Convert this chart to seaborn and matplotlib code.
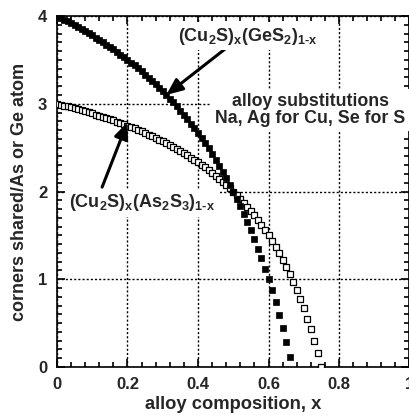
import matplotlib
matplotlib.use("Agg")
import matplotlib.pyplot as plt
import matplotlib.ticker as mticker
import seaborn as sns
import pandas as pd

# alloy composition grid (x in (Cu2S)x(B)1-x)
composition = [
    0.00, 0.01, 0.02, 0.03, 0.04, 0.05, 0.06, 0.07, 0.08, 0.09,
    0.10, 0.11, 0.12, 0.13, 0.14, 0.15, 0.16, 0.17, 0.18, 0.19,
    0.20, 0.21, 0.22, 0.23, 0.24, 0.25, 0.26, 0.27, 0.28, 0.29,
    0.30, 0.31, 0.32, 0.33, 0.34, 0.35, 0.36, 0.37, 0.38, 0.39,
    0.40, 0.41, 0.42, 0.43, 0.44, 0.45, 0.46, 0.47, 0.48, 0.49,
    0.50, 0.51, 0.52, 0.53, 0.54, 0.55, 0.56, 0.57, 0.58, 0.59,
    0.60, 0.61, 0.62, 0.63, 0.64, 0.65, 0.66, 0.67, 0.68, 0.69,
    0.70, 0.71, 0.72, 0.73, 0.74, 0.75,
]

# corners shared per Ge atom, (Cu2S)x(GeS2)1-x
corners_ges2 = [
    4.000, 3.980, 3.959, 3.938, 3.917, 3.895, 3.872, 3.849, 3.826, 3.802,
    3.778, 3.753, 3.727, 3.701, 3.674, 3.647, 3.619, 3.590, 3.561, 3.531,
    3.500, 3.468, 3.436, 3.403, 3.368, 3.333, 3.297, 3.260, 3.222, 3.183,
    3.143, 3.101, 3.059, 3.015, 2.970, 2.923, 2.875, 2.825, 2.774, 2.721,
    2.667, 2.610, 2.552, 2.491, 2.429, 2.364, 2.296, 2.226, 2.154, 2.078,
    2.000, 1.918, 1.833, 1.745, 1.652, 1.556, 1.455, 1.349, 1.238, 1.122,
    1.000, 0.872, 0.737, 0.595, 0.444, 0.286, 0.118,
]

# corners shared per As atom, (Cu2S)x(As2S3)1-x
corners_as2s3 = [
    3.000, 2.990, 2.980, 2.969, 2.958, 2.947, 2.936, 2.925, 2.913, 2.901,
    2.889, 2.876, 2.864, 2.851, 2.837, 2.824, 2.810, 2.795, 2.780, 2.765,
    2.750, 2.734, 2.718, 2.701, 2.684, 2.667, 2.649, 2.630, 2.611, 2.592,
    2.571, 2.551, 2.529, 2.507, 2.485, 2.462, 2.438, 2.413, 2.387, 2.361,
    2.333, 2.305, 2.276, 2.246, 2.214, 2.182, 2.148, 2.113, 2.077, 2.039,
    2.000, 1.959, 1.917, 1.872, 1.826, 1.778, 1.727, 1.674, 1.619, 1.561,
    1.500, 1.436, 1.368, 1.297, 1.222, 1.143, 1.059, 0.970, 0.875, 0.774,
    0.667, 0.552, 0.429, 0.296, 0.154, 0.000,
]

x_ticks = [0, 0.2, 0.4, 0.6, 0.8, 1]
x_tick_labels = ["0", "0.2", "0.4", "0.6", "0.8", "1"]
y_ticks = [0, 1, 2, 3, 4]
y_tick_labels = ["0", "1", "2", "3", "4"]

sns.set_style("ticks")
plt.rcParams["font.family"] = ["Liberation Sans", "DejaVu Sans"]
plt.rcParams["font.weight"] = "bold"
plt.rcParams["mathtext.fontset"] = "custom"
plt.rcParams["mathtext.rm"] = "Liberation Sans:bold"
plt.rcParams["mathtext.it"] = "Liberation Sans:bold"
plt.rcParams["mathtext.bf"] = "Liberation Sans:bold"

df_ges2 = pd.DataFrame({"x": composition[:len(corners_ges2)], "n": corners_ges2})
df_as = pd.DataFrame({"x": composition[:len(corners_as2s3)], "n": corners_as2s3})

fig = plt.figure(figsize=(4.10, 4.17), dpi=100)
ax = fig.add_axes([57 / 410, 1 - 367 / 417, 352.5 / 410, 351 / 417])

sns.scatterplot(data=df_as, x="x", y="n", marker="s", s=18, facecolor="white",
                edgecolor="black", linewidth=0.9, ax=ax, zorder=3)
sns.scatterplot(data=df_ges2, x="x", y="n", marker="s", s=18, color="black",
                edgecolor="black", linewidth=0.5, ax=ax, zorder=4)

ax.set_xlim(0, 1)
ax.set_ylim(0, 4)
ax.set_xticks(x_ticks)
ax.set_xticklabels(x_tick_labels)
ax.set_yticks(y_ticks)
ax.set_yticklabels(y_tick_labels)
ax.xaxis.set_minor_locator(mticker.MultipleLocator(0.04))
ax.yaxis.set_minor_locator(mticker.MultipleLocator(0.1))
ax.tick_params(which="both", direction="in", top=True, right=True, color="black", width=1.2)
ax.tick_params(which="major", length=6, labelsize=12, pad=7)
ax.tick_params(which="minor", length=3.5)
for lab in ax.get_xticklabels() + ax.get_yticklabels():
    lab.set_fontweight("bold")

ax.grid(True, which="major", color="black", linestyle=(0, (1.5, 1.5)), linewidth=1.0)
for sp in ax.spines.values():
    sp.set_color("black")
    sp.set_linewidth(1.2)

ax.set_xlabel("alloy composition, x", fontsize=13.2, fontweight="bold", labelpad=3)
ax.set_ylabel("corners shared/As or Ge atom", fontsize=13, fontweight="bold", labelpad=7)

arrow = dict(arrowstyle="-|>,head_length=0.7,head_width=0.3", color="black",
             lw=2.2, mutation_scale=14, shrinkA=0, shrinkB=0)
ax.annotate("", xy=(0.31, 3.10), xytext=(0.485, 3.65), arrowprops=arrow, zorder=5)
ax.annotate("", xy=(0.20, 2.79), xytext=(0.128, 2.05), arrowprops=arrow, zorder=5)

box = dict(facecolor="white", edgecolor="none", pad=2.5)
ax.text(0.542, 3.77, r"(Cu$_2$S)$_x$(GeS$_2$)$_{1\text{-}x}$", fontsize=13,
        fontweight="bold", ha="center", va="center", zorder=6, bbox=box)
ax.text(0.24, 1.87, r"(Cu$_2$S)$_x$(As$_2$S$_3$)$_{1\text{-}x}$", fontsize=13,
        fontweight="bold", ha="center", va="center", zorder=6, bbox=box)
ax.text(0.718, 2.93, "alloy substitutions\nNa, Ag for Cu, Se for S", fontsize=12.8,
        fontweight="bold", ha="center", va="center", linespacing=1.05,
        zorder=6, bbox=box)

fig.savefig("out.png", dpi=100)
